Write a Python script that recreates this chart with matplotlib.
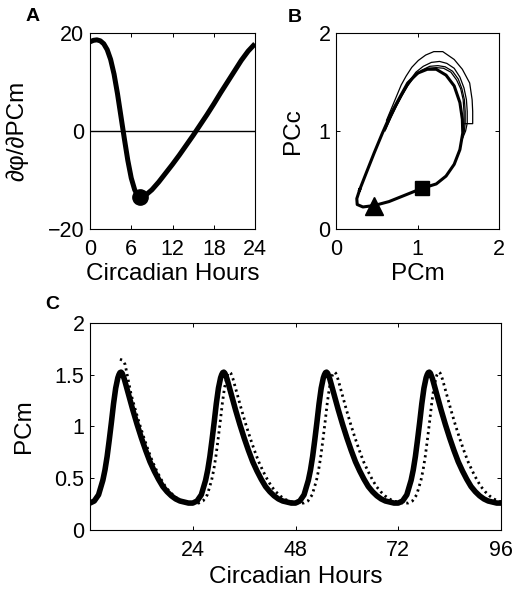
import numpy as np
import matplotlib
matplotlib.use('Agg')
import matplotlib.pyplot as plt

plt.rcParams['font.family'] = ['Liberation Sans', 'DejaVu Sans']
plt.rcParams['font.size'] = 15.5

# ---- panel A: phase response to PCm ----
prc_hours = [0, 0.5, 1, 1.5, 2, 2.5, 3, 3.5, 4, 4.5, 5, 5.5, 6, 6.5, 7, 7.5, 8,
             9, 10, 11, 12, 13, 14, 15, 16, 17, 18, 19, 20, 21, 22, 23, 24]
prc_vals = [18.2, 18.5, 18.6, 18.4, 17.8, 16.6, 14.6, 11.6, 7.6, 3.0, -1.6, -6.0,
            -9.6, -12.0, -13.3, -13.5, -13.2, -12.0, -10.4, -8.6, -6.8, -4.9,
            -2.9, -0.9, 1.2, 3.3, 5.5, 7.8, 10.0, 12.2, 14.4, 16.3, 17.8]
prc_min = (7.3, -13.5)

# ---- panel B: PCc vs PCm phase plane (limit cycle) ----
cyc_pcm = [0.29, 0.37, 0.47, 0.57, 0.67, 0.78, 0.88, 1.00, 1.12, 1.23, 1.35, 1.45,
           1.52, 1.55, 1.555, 1.52, 1.45, 1.35, 1.23, 1.055, 0.86, 0.65, 0.47,
           0.33, 0.26, 0.255, 0.29]
cyc_pcc = [0.40, 0.57, 0.78, 0.98, 1.17, 1.34, 1.49, 1.59, 1.63, 1.63, 1.57, 1.46,
           1.29, 1.12, 0.98, 0.81, 0.66, 0.54, 0.46, 0.415, 0.35, 0.28, 0.24,
           0.225, 0.25, 0.31, 0.40]

# transient loops after the PCm kick (upper arcs, merging back)
tr1_pcm = [1.58, 1.677, 1.677, 1.67, 1.64, 1.55, 1.45, 1.31, 1.20, 1.10, 1.01,
           0.93, 0.86, 0.80, 0.75, 0.69, 0.62]
tr1_pcc = [1.075, 1.075, 1.20, 1.32, 1.49, 1.63, 1.73, 1.81, 1.81, 1.775, 1.72,
           1.65, 1.56, 1.47, 1.37, 1.25, 1.11]
tr2_pcm = [1.54, 1.59, 1.61, 1.61, 1.60, 1.57, 1.52, 1.45, 1.36, 1.27, 1.17, 1.07,
           0.98, 0.90, 0.83, 0.76, 0.69, 0.62]
tr2_pcc = [0.90, 1.00, 1.08, 1.20, 1.32, 1.44, 1.55, 1.64, 1.69, 1.71, 1.70, 1.66,
           1.60, 1.51, 1.41, 1.30, 1.18, 1.05]
tr3_pcm = [1.54, 1.575, 1.585, 1.585, 1.575, 1.545, 1.50, 1.43, 1.34, 1.25, 1.15,
           1.05, 0.96, 0.89, 0.82, 0.75, 0.68, 0.61]
tr3_pcc = [0.90, 1.00, 1.08, 1.20, 1.32, 1.43, 1.53, 1.61, 1.655, 1.667, 1.66, 1.62,
           1.56, 1.48, 1.38, 1.27, 1.15, 1.02]
tr4_pcm = [1.54, 1.565, 1.572, 1.57, 1.56, 1.53, 1.48, 1.41, 1.32, 1.23, 1.13,
           1.03, 0.95, 0.88, 0.81, 0.74, 0.67, 0.60]
tr4_pcc = [0.90, 1.00, 1.08, 1.20, 1.32, 1.43, 1.52, 1.60, 1.64, 1.647, 1.64, 1.60,
           1.54, 1.46, 1.36, 1.25, 1.13, 1.00]

tri_pt = (0.47, 0.235)
sq_pt = (1.055, 0.415)

# ---- panel C: PCm time course, one circadian cycle ----
cyc_hours = [0, 1, 2, 3, 3.5, 4, 4.5, 5, 5.5, 6, 6.5, 6.75, 7, 7.25, 7.5, 8, 9, 10,
             11, 12, 13, 14, 15, 16, 17, 18, 19, 20, 21, 22, 23, 24]
cyc_pcm_t = [0.26, 0.28, 0.34, 0.48, 0.58, 0.71, 0.87, 1.04, 1.22, 1.37, 1.47, 1.50,
             1.52, 1.525, 1.515, 1.46, 1.31, 1.16, 1.02, 0.89, 0.77, 0.66, 0.57,
             0.49, 0.42, 0.37, 0.33, 0.30, 0.28, 0.27, 0.26, 0.26]
n_cycles = 4
pert_shift = [0.6, 1.4, 1.9, 2.3]   # phase lag of perturbed run per cycle (h)
pert_start_t = [7.0, 7.6, 8.2]
pert_start_v = [1.65, 1.64, 1.60]

fig = plt.figure(figsize=(5.26, 6.0), dpi=100)
LAB = 17.5


def style(ax):
    ax.tick_params(direction='in', top=True, right=True, length=3, width=0.7,
                   pad=4, labelsize=15.5)
    ax.tick_params(axis='x', pad=7.5)
    for s in ax.spines.values():
        s.set_linewidth(0.8)


# A
axA = fig.add_axes([0.1711, 0.6183, 0.3137, 0.3267])
axA.axhline(0, color='black', lw=1.0)
axA.plot(prc_hours, prc_vals, color='black', lw=3.6, solid_capstyle='butt')
axA.plot(*prc_min, 'o', color='black', ms=11)
axA.set_xlim(0, 24)
axA.set_ylim(-20, 20)
axA.set_xticks([0, 6, 12, 18, 24])
axA.set_yticks([-20, 0, 20])
axA.set_xlabel('Circadian Hours', fontsize=LAB, labelpad=2)
axA.set_ylabel('∂φ/∂PCm', fontsize=LAB, labelpad=14)
style(axA)
fig.text(0.048, 0.972, 'A', fontsize=14, fontweight='bold', va='center', ha='left')

# B
axB = fig.add_axes([0.6388, 0.6183, 0.3099, 0.3267])
for xs, ys in [(tr1_pcm, tr1_pcc), (tr2_pcm, tr2_pcc), (tr3_pcm, tr3_pcc),
               (tr4_pcm, tr4_pcc)]:
    axB.plot(xs, ys, color='black', lw=0.9)
axB.plot(cyc_pcm, cyc_pcc, color='black', lw=2.2)
axB.plot(*tri_pt, '^', color='black', ms=12.5)
axB.plot(*sq_pt, 's', color='black', ms=9.5)
axB.set_xlim(0, 2)
axB.set_ylim(0, 2)
axB.set_xticks([0, 1, 2])
axB.set_yticks([0, 1, 2])
axB.set_xlabel('PCm', fontsize=LAB, labelpad=2)
axB.set_ylabel('PCc', fontsize=LAB, labelpad=10.5)
style(axB)
fig.text(0.548, 0.971, 'B', fontsize=14, fontweight='bold', va='center', ha='left')

# C
cyc_t = np.array(cyc_hours)
cyc_v = np.array(cyc_pcm_t)
axC = fig.add_axes([0.1711, 0.1167, 0.7814, 0.345])
solid_t = np.concatenate([cyc_t + 24 * k for k in range(n_cycles)])
solid_v = np.tile(cyc_v, n_cycles)
axC.plot(solid_t, solid_v, color='black', lw=4.0)

dot_t = list(pert_start_t)
dot_v = list(pert_start_v)
for k in range(n_cycles):
    keep = cyc_t >= 8.5 if k == 0 else cyc_t >= 0
    dot_t += list(cyc_t[keep] + 24 * k + pert_shift[k])
    dot_v += list(cyc_v[keep])
axC.plot(dot_t, dot_v, color='black', lw=2.0, linestyle=(0, (0.8, 1.3)),
         dash_capstyle='butt')
axC.set_xlim(0, 96)
axC.set_ylim(0, 2)
axC.set_xticks([24, 48, 72, 96])
axC.set_yticks([0, 0.5, 1, 1.5, 2])
axC.set_yticklabels(['0', '0.5', '1', '1.5', '2'])
axC.set_xlabel('Circadian Hours', fontsize=LAB, labelpad=3)
axC.set_ylabel('PCm', fontsize=LAB, labelpad=14)
style(axC)
fig.text(0.086, 0.493, 'C', fontsize=14, fontweight='bold', va='center', ha='left')

fig.savefig('out.png', dpi=100)
